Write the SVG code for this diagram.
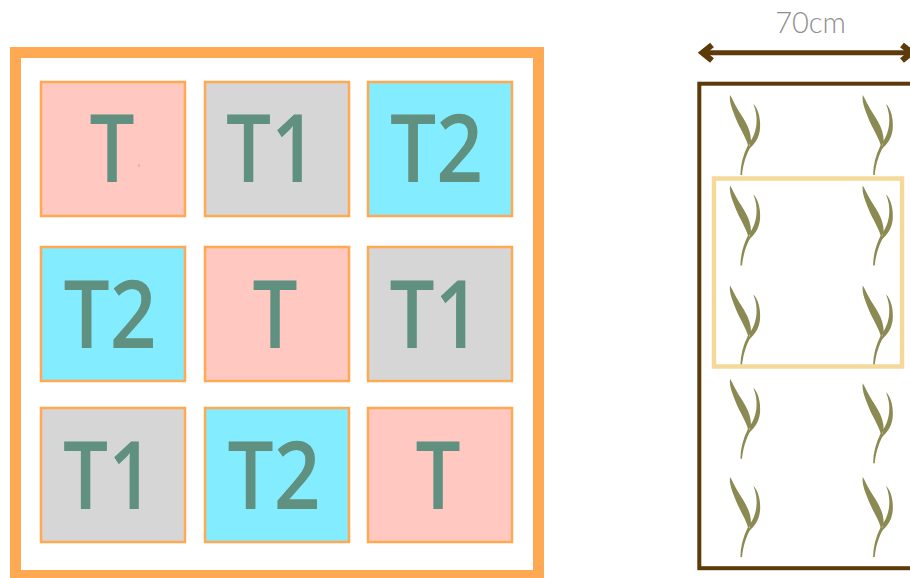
<svg xmlns="http://www.w3.org/2000/svg" width="910" height="578" viewBox="0 0 910 578">
<style>
.tile{stroke:#ffa952;stroke-width:2.5}
.a{fill:#ffc8c0}.b{fill:#d6d6d6}.c{fill:#84ecff}
.lb{font-family:"Open Sans","Liberation Sans",sans-serif;font-size:94px;font-weight:600;fill:#5f9080;text-anchor:middle}
.plant{fill:#8b8a52}
</style>
<defs>
<g id="plant">
<path d="M0,0C2,3 4,8 7,13C12,22 21,32 21,46L18.500,52C16,42 10,34 6,24C3,16 -1,8 0,0Z"/>
<path d="M23.300,9C28,13 31,24 30,34C29,43 25,49 19,54L20,47C23,43 26,36 26.500,28C27,22 26,15 23.300,9Z"/>
<path d="M18,50L20.500,52C16,60 13,70 12,80L10.400,80C10.500,70 13,60 18,50Z"/>
</g>
</defs>
<rect width="910" height="578" fill="#fff"/>
<rect x="15.500" y="52.500" width="523" height="523" fill="#fff" stroke="#ffa952" stroke-width="11"/>
<g id="n1"><rect class="tile a" x="41" y="82" width="144" height="134"/><text class="lb" transform="translate(112 182) scale(.85 1)">T</text><rect x="138.500" y="164" width="1" height="3" fill="#c9a49c"/></g>
<g id="n2"><rect class="tile b" x="205" y="82" width="144" height="134"/><text class="lb" transform="translate(271.500 182) scale(.85 1)">T1</text></g>
<g id="n3"><rect class="tile c" x="368" y="82" width="144" height="134"/><text class="lb" transform="translate(436.500 182) scale(.87 1)">T2</text></g>
<g id="n4"><rect class="tile c" x="41" y="247" width="144" height="134"/><text class="lb" transform="translate(110 348) scale(.87 1)">T2</text></g>
<g id="n5"><rect class="tile a" x="205" y="247" width="144" height="134"/><text class="lb" transform="translate(275 348) scale(.85 1)">T</text></g>
<g id="n6"><rect class="tile b" x="368" y="247" width="144" height="134"/><text class="lb" transform="translate(435 348) scale(.85 1)">T1</text></g>
<g id="n7"><rect class="tile b" x="41" y="408" width="144" height="134"/><text class="lb" transform="translate(108.500 509) scale(.85 1)">T1</text></g>
<g id="n8"><rect class="tile c" x="205" y="408" width="144" height="134"/><text class="lb" transform="translate(274 509) scale(.87 1)">T2</text></g>
<g id="n9"><rect class="tile a" x="368" y="408" width="144" height="134"/><text class="lb" transform="translate(438 509) scale(.85 1)">T</text></g>
<g id="bed"><rect x="699.300" y="83.700" width="215" height="484.500" fill="none" stroke="#5c3a0a" stroke-width="4"/></g>
<g id="plants" class="plant">
<use href="#plant" x="730" y="95"/><use href="#plant" x="862.700" y="95"/>
<use href="#plant" x="730" y="185.500"/><use href="#plant" x="862.700" y="185.500"/>
<use href="#plant" x="730" y="285.500"/><use href="#plant" x="862.700" y="285.500"/>
<use href="#plant" x="730" y="378.700"/><use href="#plant" x="862.700" y="383.300"/>
<use href="#plant" x="730" y="477"/><use href="#plant" x="862.700" y="477"/>
</g>
<g id="frame"><rect x="714" y="178.500" width="188" height="188" fill="none" stroke="#f5d99a" stroke-width="4.500"/></g>
<g id="connectors" fill="none" stroke="#5c3a0a" stroke-width="5">
<path d="M703,52.700H915"/>
<path d="M712,45L702.500,52.700L712,60.500" stroke-width="6"/>
<path d="M921,45L911.500,52.700L921,60.500" stroke-width="6" transform="matrix(-1 0 0 1 1823 0)"/>
</g>
<text id="dim" x="810.500" y="33" text-anchor="middle" font-family="Lato,'Liberation Sans',sans-serif" font-weight="300" font-size="29" fill="#8f8f8f">70cm</text>
</svg>
